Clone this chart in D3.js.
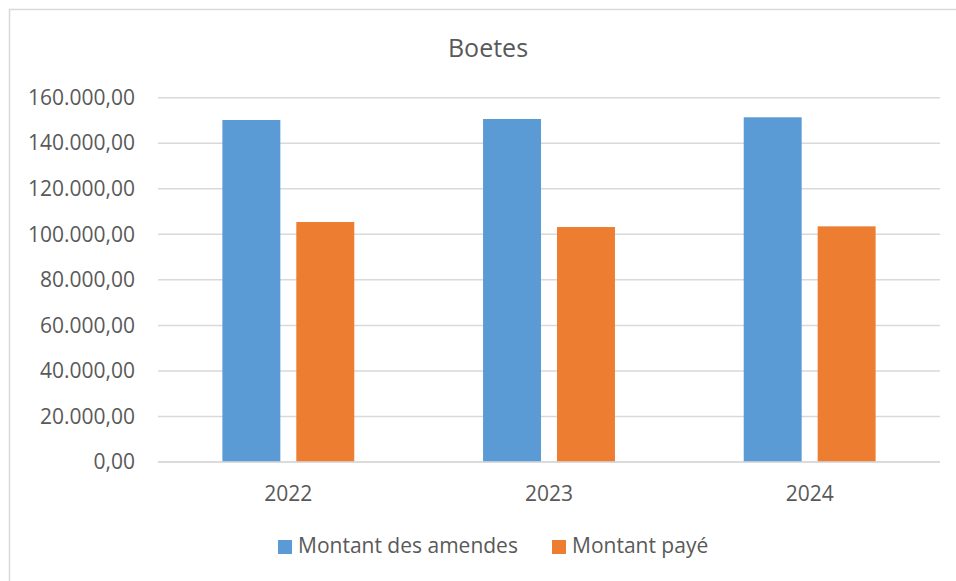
<!DOCTYPE html>
<html>
<head>
<meta charset="utf-8">
<script src="https://cdnjs.cloudflare.com/ajax/libs/d3/7.8.5/d3.min.js"></script>
<style>
  body { margin: 0; background: #fff; }
  svg { display: block; font-family: "Open Sans", sans-serif; }
</style>
</head>
<body>
<script>
// chart data
const years = ['2022', '2023', '2024'];
const seriesNames = ['Montant des amendes', 'Montant payé'];
const amendes = [150200, 150650, 151400];
const paye = [105400, 103200, 103500];
const yTicks = [0, 20000, 40000, 60000, 80000, 100000, 120000, 140000, 160000];

const colors = ['#5b9bd5', '#ed7d31'];
const textColor = '#595959';

let width = 956, height = 581;
let plotLeft = 158, plotRight = 940, plotTop = 97.7, plotBottom = 462;

let svg = d3.select('body')
    .append('svg')
    .attr('width', width)
    .attr('height', height);

// chart area border (runs off the right/bottom edge like the original)
svg.append('rect')
    .attr('x', 9.5).attr('y', 9.5)
    .attr('width', 1000).attr('height', 1000)
    .attr('fill', 'none')
    .attr('stroke', '#d9d9d9')
    .attr('stroke-width', 1.5);

let yScale = d3.scaleLinear()
    .domain([0, 160000])
    .range([plotBottom, plotTop]);

let x0 = d3.scaleBand()
    .domain(years)
    .range([plotLeft, plotRight])
    .paddingInner(0.494)
    .paddingOuter(0.247);

let x1 = d3.scaleBand()
    .domain(seriesNames)
    .range([0, x0.bandwidth()])
    .paddingInner(0.216);

// gridlines
svg.append('g')
    .selectAll('line')
    .data(yTicks)
    .enter()
    .append('line')
    .attr('x1', plotLeft).attr('x2', plotRight)
    .attr('y1', d => yScale(d)).attr('y2', d => yScale(d))
    .attr('stroke', '#d9d9d9')
    .attr('stroke-width', 1.5);

// y axis labels
let fmt = d3.formatLocale({ decimal: ',', thousands: '.', grouping: [3], currency: ['', ''] }).format(',.2f');
let yAxis = d3.axisLeft(yScale).tickValues(yTicks).tickFormat(fmt).tickSize(0).tickPadding(23);
let gy = svg.append('g')
    .attr('transform', 'translate(' + plotLeft + ',0)')
    .call(yAxis);
gy.select('.domain').remove();
gy.selectAll('text')
    .attr('fill', textColor)
    .style('font-size', '21px')
    .style('font-family', '"Open Sans", sans-serif');

// bars
let rows = years.map((y, i) => ({ year: y, values: [amendes[i], paye[i]] }));
let groups = svg.append('g')
    .selectAll('g')
    .data(rows)
    .enter()
    .append('g')
    .attr('transform', d => 'translate(' + x0(d.year) + ',0)');

groups.selectAll('rect')
    .data(d => d.values.map((v, k) => ({ name: seriesNames[k], value: v, k: k })))
    .enter()
    .append('rect')
    .attr('x', d => x1(d.name))
    .attr('y', d => yScale(d.value))
    .attr('width', x1.bandwidth())
    .attr('height', d => yScale(0) - yScale(d.value))
    .attr('fill', d => colors[d.k]);

// baseline on top of bars
svg.append('line')
    .attr('x1', plotLeft).attr('x2', plotRight)
    .attr('y1', yScale(0)).attr('y2', yScale(0))
    .attr('stroke', '#d9d9d9')
    .attr('stroke-width', 1.5);

// x axis labels
let xAxis = d3.axisBottom(x0).tickSize(0).tickPadding(24);
let gx = svg.append('g')
    .attr('transform', 'translate(0,' + plotBottom + ')')
    .call(xAxis);
gx.select('.domain').remove();
gx.selectAll('text')
    .attr('fill', textColor)
    .style('font-size', '21px')
    .style('font-family', '"Open Sans", sans-serif');

// title
svg.append('text')
    .attr('x', 488).attr('y', 57)
    .attr('text-anchor', 'middle')
    .attr('fill', textColor)
    .style('font-size', '25px')
    .text('Boetes');

// legend
let legendX = [278, 552];
let legend = svg.append('g')
    .selectAll('g')
    .data(seriesNames)
    .enter()
    .append('g')
    .attr('transform', (d, i) => 'translate(' + legendX[i] + ',540)');
legend.append('rect')
    .attr('width', 14).attr('height', 14)
    .attr('fill', (d, i) => colors[i]);
legend.append('text')
    .attr('x', 20).attr('y', 13)
    .attr('fill', textColor)
    .style('font-size', '21px')
    .text(d => d);
</script>
</body>
</html>
